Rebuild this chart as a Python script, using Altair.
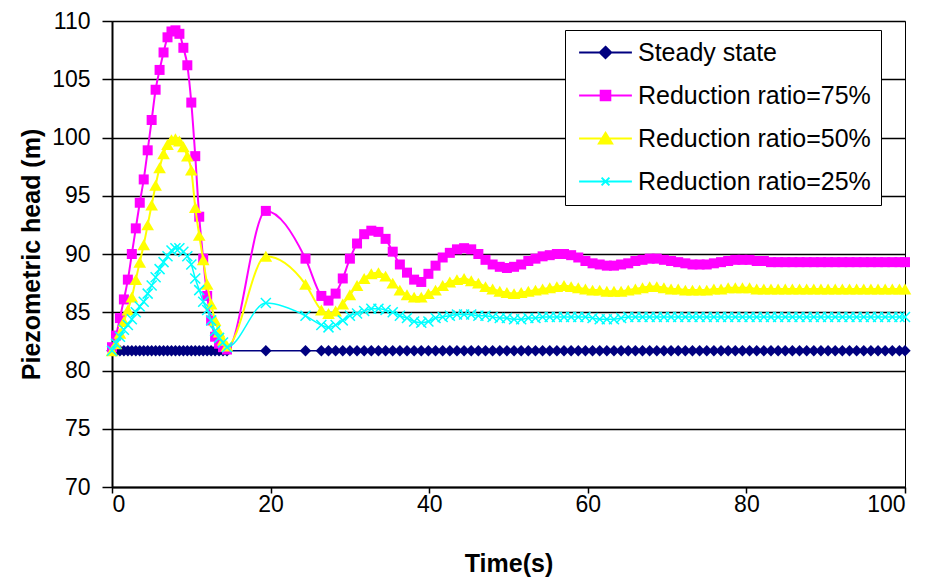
import altair as alt
import pandas as pd

# ---- time axis (s) ----
time_early = [0.0, 0.5, 1.0, 1.5, 2.0, 2.5, 3.0, 3.5, 4.0, 4.5,
              5.0, 5.5, 6.0, 6.5, 7.0, 7.5, 8.0, 8.5, 9.0, 9.5,
              10.0, 10.5, 11.0, 11.5, 12.0, 12.5, 13.0, 13.5, 14.0, 14.5]
time_mid = [19.4, 24.4]
time_late = [26.4, 27.3, 28.2, 29.1, 30.0, 30.9, 31.8, 32.7, 33.6, 34.5,
             35.4, 36.3, 37.2, 38.1, 39.0, 39.9, 40.8, 41.7, 42.6, 43.5,
             44.4, 45.3, 46.2, 47.1, 48.0, 48.9, 49.8, 50.7, 51.6, 52.5,
             53.4, 54.3, 55.2, 56.1, 57.0, 57.9, 58.8, 59.7, 60.6, 61.5,
             62.4, 63.3, 64.2, 65.1, 66.0, 66.9, 67.8, 68.7, 69.6, 70.5,
             71.4, 72.3, 73.2, 74.1, 75.0, 75.9, 76.8, 77.7, 78.6, 79.5,
             80.4, 81.3, 82.2, 83.1, 84.0, 84.9, 85.8, 86.7, 87.6, 88.5,
             89.4, 90.3, 91.2, 92.1, 93.0, 93.9, 94.8, 95.7, 96.6, 97.5,
             98.4, 99.3, 100.0]
time_s = time_early + time_mid + time_late

# ---- piezometric head (m) ----
steady = [81.7, 81.7, 81.7, 81.7, 81.7, 81.7, 81.7, 81.7, 81.7, 81.7,
          81.7, 81.7, 81.7, 81.7, 81.7, 81.7, 81.7, 81.7, 81.7, 81.7,
          81.7, 81.7, 81.7, 81.7, 81.7, 81.7, 81.7, 81.7, 81.7, 81.7,
          81.7, 81.7,
          81.7, 81.7, 81.7, 81.7, 81.7, 81.7, 81.7, 81.7, 81.7, 81.7,
          81.7, 81.7, 81.7, 81.7, 81.7, 81.7, 81.7, 81.7, 81.7, 81.7,
          81.7, 81.7, 81.7, 81.7, 81.7, 81.7, 81.7, 81.7, 81.7, 81.7,
          81.7, 81.7, 81.7, 81.7, 81.7, 81.7, 81.7, 81.7, 81.7, 81.7,
          81.7, 81.7, 81.7, 81.7, 81.7, 81.7, 81.7, 81.7, 81.7, 81.7,
          81.7, 81.7, 81.7, 81.7, 81.7, 81.7, 81.7, 81.7, 81.7, 81.7,
          81.7, 81.7, 81.7, 81.7, 81.7, 81.7, 81.7, 81.7, 81.7, 81.7,
          81.7, 81.7, 81.7, 81.7, 81.7, 81.7, 81.7, 81.7, 81.7, 81.7,
          81.7, 81.7, 81.7]

r75 = [82.0, 83.0, 84.5, 86.1, 87.8, 90.0, 92.2, 94.4, 96.4, 98.9,
       101.5, 104.1, 105.8, 107.3, 108.6, 109.1, 109.2, 108.9, 107.7, 106.2,
       103.0, 98.4, 93.2, 89.6, 86.4, 84.3, 82.9, 82.3, 82.0, 81.8,
       93.7, 89.6,
       86.4, 86.0, 86.6, 87.9, 89.6, 90.9, 91.7, 92.0, 91.9, 91.3,
       90.2, 89.1, 88.4, 87.8, 87.6, 88.3, 89.0, 89.7, 90.1, 90.4,
       90.5, 90.4, 90.0, 89.5, 89.1, 88.9, 88.8, 88.9, 89.1, 89.4,
       89.6, 89.8, 89.9, 90.0, 90.0, 89.9, 89.7, 89.4, 89.2, 89.1,
       89.0, 89.0, 89.1, 89.2, 89.4, 89.5, 89.6, 89.6, 89.5, 89.4,
       89.3, 89.2, 89.1, 89.1, 89.1, 89.2, 89.3, 89.4, 89.5, 89.5,
       89.5, 89.4, 89.4, 89.3, 89.3, 89.3, 89.3, 89.3, 89.3, 89.3,
       89.3, 89.3, 89.3, 89.3, 89.3, 89.3, 89.3, 89.3, 89.3, 89.3,
       89.3, 89.3, 89.3]

r50 = [81.7, 82.3, 83.2, 84.2, 85.2, 86.3, 87.8, 89.3, 90.8, 92.5,
       94.2, 95.9, 97.4, 98.6, 99.4, 99.8, 99.9, 99.7, 99.2, 98.4,
       97.2, 94.0, 91.6, 89.5, 87.4, 85.7, 84.3, 83.3, 82.6, 82.1,
       89.8, 87.4,
       85.2, 84.9, 85.1, 85.7, 86.5, 87.3, 87.9, 88.3, 88.4, 88.1,
       87.5, 86.9, 86.5, 86.3, 86.3, 86.6, 86.9, 87.3, 87.6, 87.8,
       87.9, 87.7, 87.5, 87.2, 87.0, 86.8, 86.7, 86.6, 86.7, 86.8,
       86.9, 87.0, 87.1, 87.2, 87.3, 87.2, 87.1, 87.0, 86.9, 86.9,
       86.8, 86.8, 86.8, 86.9, 87.0, 87.1, 87.2, 87.2, 87.1, 87.0,
       87.0, 86.9, 86.9, 86.9, 86.9, 87.0, 87.0, 87.1, 87.1, 87.1,
       87.1, 87.0, 87.0, 87.0, 87.0, 87.0, 87.0, 87.0, 87.0, 87.0,
       87.0, 87.0, 87.0, 87.0, 87.0, 87.0, 87.0, 87.0, 87.0, 87.0,
       87.0, 87.0, 87.0]

r25 = [81.7, 82.3, 82.9, 83.5, 83.9, 84.4, 85.0, 85.5, 85.9, 86.6,
       87.3, 88.0, 88.7, 89.3, 89.8, 90.3, 90.5, 90.5, 90.2, 89.8,
       89.1, 87.9, 86.9, 85.9, 85.2, 84.3, 83.4, 82.8, 82.4, 82.0,
       85.8, 84.7,
       83.9, 83.7, 83.9, 84.3, 84.7, 84.9, 85.1, 85.3, 85.3, 85.2,
       85.0, 84.7, 84.5, 84.2, 84.1, 84.2, 84.5, 84.6, 84.7, 84.8,
       84.8, 84.8, 84.7, 84.7, 84.6, 84.5, 84.5, 84.4, 84.4, 84.5,
       84.5, 84.6, 84.6, 84.6, 84.6, 84.6, 84.6, 84.6, 84.5, 84.4,
       84.4, 84.4, 84.5, 84.6, 84.6, 84.6, 84.6, 84.6, 84.6, 84.6,
       84.6, 84.6, 84.6, 84.6, 84.6, 84.6, 84.6, 84.6, 84.6, 84.6,
       84.6, 84.6, 84.6, 84.6, 84.6, 84.6, 84.6, 84.6, 84.6, 84.6,
       84.6, 84.6, 84.6, 84.6, 84.6, 84.6, 84.6, 84.6, 84.6, 84.6,
       84.6, 84.6, 84.6]

series_names = ["Steady state", "Reduction ratio=75%",
                "Reduction ratio=50%", "Reduction ratio=25%"]
series_colors = ["#000080", "#FF00FF", "#FFFF00", "#00FFFF"]
series_values = [steady, r75, r50, r25]

for vals in series_values:
    assert len(vals) == len(time_s), (len(vals), len(time_s))

rows = []
for name, vals in zip(series_names, series_values):
    for t, v in zip(time_s, vals):
        rows.append({"t": t, "h": v, "series": name})
df = pd.DataFrame(rows)

FONT = "Liberation Sans"

base = alt.Chart(df).encode(
    x=alt.X("t:Q",
            scale=alt.Scale(domain=[0, 100], nice=False, zero=False),
            axis=alt.Axis(values=[0, 20, 40, 60, 80, 100], title="Time(s)",
                          grid=False, tickSize=6, labelPadding=0,
                          titlePadding=35)),
    y=alt.Y("h:Q",
            scale=alt.Scale(domain=[70, 110], nice=False, zero=False),
            axis=alt.Axis(values=[70, 75, 80, 85, 90, 95, 100, 105, 110],
                          title="Piezometric head (m)", grid=True,
                          tickSize=10, labelPadding=12, titlePadding=7)),
)

cross_path = "M-1,-1L1,1M-1,1L1,-1"
mark_specs = [
    # name, color, line width, shape, size, filled, marker stroke width
    ("Steady state", "#000080", 1.5, "diamond", 130, True, 1),
    ("Reduction ratio=75%", "#FF00FF", 2, "square", 100, True, 1),
    ("Reduction ratio=50%", "#FFFF00", 2, "triangle-up", 160, True, 1),
    ("Reduction ratio=25%", "#00FFFF", 1.5, cross_path, 100, False, 1.5),
]

layers = []
for name, color, lw, shape, size, filled, msw in mark_specs:
    sub = base.transform_filter(alt.datum.series == name)
    layers.append(sub.mark_line(color=color, strokeWidth=lw,
                                interpolate="monotone"))
    layers.append(sub.mark_point(shape=shape, size=size, filled=filled,
                                 color=color, opacity=1, strokeWidth=msw))

legend_paths = [
    "M-4.4,0H4.4M0,-0.95L0.95,0L0,0.95L-0.95,0Z",
    "M-4.4,0H4.4M-0.8,-0.8H0.8V0.8H-0.8Z",
    "M-4.4,0H4.4M0,-0.95L1.1,0.85L-1.1,0.85Z",
    "M-4.4,0H4.4M-0.65,-0.65L0.65,0.65M-0.65,0.65L0.65,-0.65",
]

legend = alt.Legend(
    title=None, orient="none", legendX=453, legendY=9,
    fillColor="white", strokeColor="black", padding=10,
    labelFont=FONT, labelFontSize=25, labelColor="black", labelLimit=500,
    symbolSize=144, symbolStrokeWidth=2, symbolOffset=18,
    labelOffset=20, rowPadding=17, symbolOpacity=1,
)

legend_layer = base.mark_point(opacity=0, filled=True).encode(
    fill=alt.Fill("series:N",
                  scale=alt.Scale(domain=series_names, range=series_colors),
                  legend=legend),
    stroke=alt.Stroke("series:N",
                      scale=alt.Scale(domain=series_names, range=series_colors),
                      legend=legend),
    shape=alt.Shape("series:N",
                    scale=alt.Scale(domain=series_names, range=legend_paths),
                    legend=legend),
)

chart = alt.layer(*layers, legend_layer).properties(
    width=793, height=466,
    autosize=alt.AutoSizeParams(type="none"),
    padding={"left": 104, "top": 13, "right": 15, "bottom": 92},
    background="white",
).configure_view(
    stroke="black", strokeWidth=1
).configure_axis(
    labelFont=FONT, labelFontSize=23, labelColor="black",
    titleFont=FONT, titleFontSize=25, titleFontWeight="bold",
    titleColor="black",
    domainColor="black", domainWidth=2,
    tickColor="black", tickWidth=1.5,
    gridColor="black", gridWidth=1.5, gridOpacity=1,
)

chart.save("out.html", embed_options={"renderer": "svg", "actions": False})
